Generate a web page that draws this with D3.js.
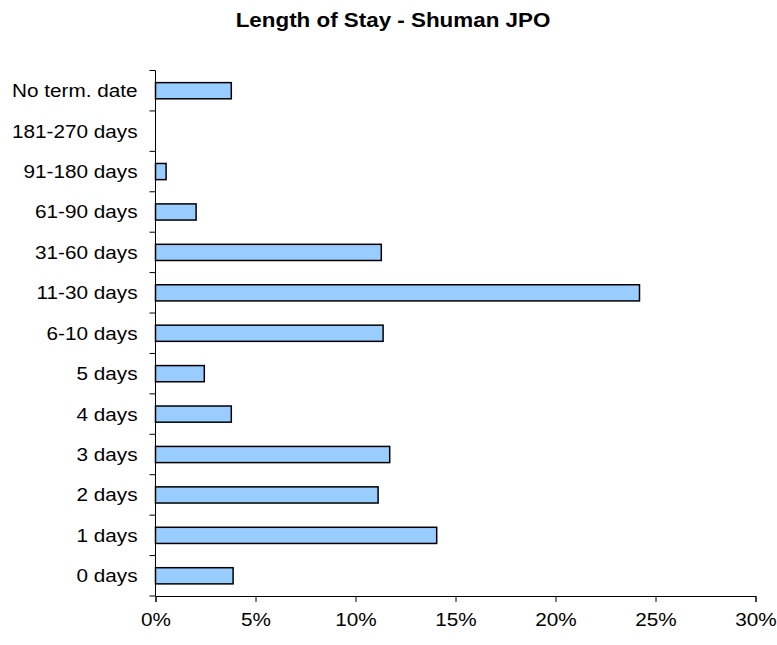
<!DOCTYPE html>
<html>
<head>
<meta charset="utf-8">
<script src="https://cdn.jsdelivr.net/npm/d3@7"></script>
<style>
  body { margin: 0; background: #fff; }
  svg text { font-family: "Liberation Sans", Arial, sans-serif; fill: #000; }
</style>
</head>
<body>
<svg id="chart" width="777" height="645"></svg>
<script>
// categories listed bottom to top as in the picture
const categories = ['0 days', '1 days', '2 days', '3 days', '4 days', '5 days', '6-10 days',
  '11-30 days', '31-60 days', '61-90 days', '91-180 days', '181-270 days', 'No term. date'];
const percents = [3.88, 14.06, 11.13, 11.71, 3.79, 2.44, 11.38, 24.2, 11.29, 2.03, 0.53, 0, 3.79];
const xTicks = [0, 5, 10, 15, 20, 25, 30];

const svg = d3.select('#chart');
const margin = { top: 70.5, left: 155.5, right: 21.5, bottom: 49 };
const width = 777 - margin.left - margin.right;
const height = 645 - margin.top - margin.bottom;
const stretch = 1.12; // text in the picture is a bit wider than Arial

const data = categories.map((c, i) => ({ cat: c, val: percents[i] }));

const x = d3.scaleLinear().domain([0, 30]).range([0, width]);
const y = d3.scaleBand().domain(categories.slice().reverse()).range([0, height]).paddingInner(0.6).paddingOuter(0.3);

const g = svg.append('g').attr('transform', `translate(${margin.left},${margin.top})`);

// title
svg.append('text')
  .attr('transform', `translate(393,27) scale(${stretch},1)`)
  .attr('text-anchor', 'middle')
  .style('font-size', '20px').style('font-weight', 'bold')
  .text('Length of Stay - Shuman JPO');

// bars
g.selectAll('.bar')
  .data(data.filter(d => d.val > 0))
  .join('rect')
  .attr('class', 'bar')
  .attr('x', 0)
  .attr('y', d => y(d.cat))
  .attr('width', d => x(d.val))
  .attr('height', y.bandwidth())
  .style('fill', '#99ccff')
  .style('stroke', '#000')
  .style('stroke-width', 1.5);

// y axis: line with ticks at band boundaries
const step = height / categories.length;
g.append('line').attr('x1', 0).attr('x2', 0).attr('y1', 0).attr('y2', height)
  .style('stroke', '#000').style('stroke-width', 1);
g.selectAll('.ytick')
  .data(d3.range(categories.length + 1))
  .join('line')
  .attr('x1', -6).attr('x2', 0)
  .attr('y1', i => i * step).attr('y2', i => i * step)
  .style('stroke', '#000').style('stroke-width', 1);
g.selectAll('.ylabel')
  .data(categories)
  .join('text')
  .attr('transform', d => `translate(-18,${y(d) + y.bandwidth() / 2}) scale(${stretch},1)`)
  .attr('dy', '0.35em')
  .attr('text-anchor', 'end')
  .style('font-size', '18.5px')
  .text(d => d);

// x axis
const xAxis = g.append('g')
  .attr('transform', `translate(0,${height})`)
  .call(d3.axisBottom(x).tickValues(xTicks).tickSize(6).tickPadding(11).tickFormat(d => d + '%'));
xAxis.select('.domain').style('stroke', '#000');
xAxis.selectAll('line').style('stroke', '#000');
xAxis.selectAll('text')
  .style('font-size', '18.5px')
  .style('font-family', '"Liberation Sans", Arial, sans-serif')
  .attr('transform', `scale(${stretch},1)`)
  .attr('x', 0);
xAxis.selectAll('.tick text').attr('text-anchor', 'middle');
</script>
</body>
</html>
